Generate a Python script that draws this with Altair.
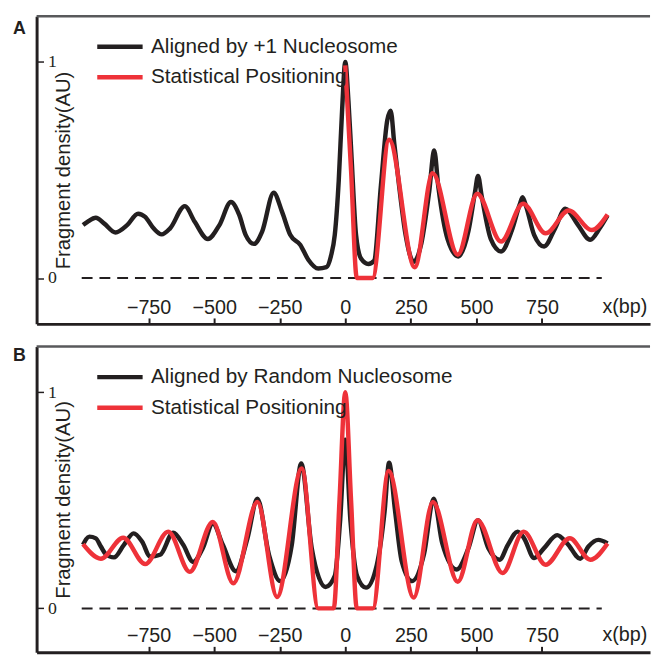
import altair as alt
import pandas as pd

# ---------------- data ----------------
X_TICKS = [-750, -500, -250, 0, 250, 500, 750]
Y_TICKS = [0, 1]

RED_NAME = "Statistical Positioning"
A_BLACK_NAME = "Aligned by +1 Nucleosome"
B_BLACK_NAME = "Aligned by Random Nucleosome"

# Panel A, black curve (aligned by +1 nucleosome)
a_black_bp = [-1000, -983, -951, -920, -876, -832, -790, -763, -731, -700, -668, -612, -574,
              -524, -480, -436, -404, -380, -348, -317, -273, -241, -210, -172, -141, -103,
              -72, -55, -40, -25, -12, 0, 12, 23, 41, 60, 88, 110, 136, 160, 173, 187, 205,
              230, 261, 290, 320, 339, 355, 390, 431, 470, 495, 506, 520, 555, 594, 635, 665,
              676, 690, 720, 758, 800, 839, 885, 934, 970, 1000]
a_black_val = [0.245, 0.26, 0.279, 0.253, 0.211, 0.245, 0.298, 0.283, 0.23, 0.202, 0.23, 0.333,
               0.26, 0.181, 0.245, 0.352, 0.291, 0.2, 0.158, 0.215, 0.395, 0.306, 0.2, 0.154,
               0.085, 0.044, 0.05, 0.1, 0.2, 0.45, 0.78, 1.0, 0.82, 0.58, 0.2, 0.09, 0.065, 0.08,
               0.43, 0.73, 0.775, 0.62, 0.43, 0.2, 0.075, 0.16, 0.4, 0.59, 0.42, 0.18, 0.1, 0.22,
               0.4, 0.473, 0.38, 0.18, 0.123, 0.22, 0.34, 0.374, 0.33, 0.2, 0.146, 0.23, 0.321,
               0.25, 0.177, 0.23, 0.29]

# Panel A, red curve (statistical positioning)
a_red_bp = [0, 22, 44, 104, 167, 265, 333, 429, 503, 594, 678, 764, 852, 940, 1000]
a_red_val = [0.985, 0.5, 0.0, 0.0, 0.64, 0.05, 0.485, 0.108, 0.39, 0.169, 0.344, 0.207,
             0.313, 0.222, 0.294]

# Panel B, black curve (aligned by random nucleosome)
b_black_bp = [-1000, -976, -951, -932, -913, -882, -844, -807, -775, -744, -706, -656, -618,
              -580, -543, -505, -467, -417, -373, -335, -291, -248, -204, -168, -128, -75,
              -40, -20, 0, 20, 45, 79, 120, 150, 167, 190, 215, 255, 300, 337, 370, 425, 470,
              506, 545, 588, 620, 657, 682, 720, 758, 808, 846, 896, 927, 965, 1000]
b_black_val = [0.294, 0.332, 0.324, 0.286, 0.251, 0.236, 0.294, 0.347, 0.309, 0.24, 0.248,
               0.35, 0.294, 0.215, 0.279, 0.393, 0.294, 0.172, 0.324, 0.507, 0.248, 0.126,
               0.294, 0.67, 0.279, 0.099, 0.15, 0.4, 0.78, 0.4, 0.15, 0.096, 0.2, 0.45, 0.674,
               0.45, 0.22, 0.126, 0.25, 0.507, 0.3, 0.18, 0.28, 0.408, 0.28, 0.225, 0.294,
               0.355, 0.324, 0.233, 0.279, 0.339, 0.301, 0.23, 0.286, 0.317, 0.301]

# Panel B, red curve (statistical positioning)
b_red_bp = [-1000, -932, -847, -763, -675, -593, -505, -427, -335, -260, -166, -103, -44, -22,
            0, 22, 44, 105, 165, 261, 334, 429, 504, 600, 680, 764, 856, 934, 1000]
b_red_val = [0.297, 0.23, 0.327, 0.205, 0.355, 0.169, 0.4, 0.116, 0.492, 0.053, 0.647, 0.0,
             0.0, 0.5, 1.0, 0.5, 0.0, 0.0, 0.636, 0.05, 0.492, 0.123, 0.408, 0.164, 0.355,
             0.202, 0.324, 0.225, 0.3]

ZERO_LINE = [-1005, 978]

# ---------------- styling ----------------
BLACK = "#231F20"
RED = "#EE3239"
GRAY = "#58595B"
SANS = "Liberation Sans"
SERIF = "Liberation Serif"
WIDTH = 622
X_DOMAIN = [-1177, 1162]


def panel(black_bp, black_val, red_bp, red_val, black_name, letter, height, y_domain,
          letter_y, legend_y):
    df = pd.DataFrame({
        "bp": list(black_bp) + list(red_bp),
        "density": list(black_val) + list(red_val),
        "series": [black_name] * len(black_bp) + [RED_NAME] * len(red_bp),
    })
    xs = alt.Scale(domain=X_DOMAIN, nice=False, zero=False)
    ys = alt.Scale(domain=y_domain, nice=False, zero=False)

    x_axis = alt.Axis(
        orient="top", offset=-height, values=X_TICKS, format="d", grid=False,
        domain=True, domainColor=BLACK, domainWidth=3,
        ticks=True, tickSize=6, tickWidth=2, tickColor=BLACK,
        labelFont=SANS, labelFontSize=20, labelPadding=1, labelColor=BLACK,
        labelFlush=False, labelOverlap=False,
        title="x(bp)", titleX=596, titleY=-11.5, titleBaseline="alphabetic",
        titleAlign="center", titleAnchor="start", titleFont=SANS, titleFontSize=20,
        titleFontWeight="normal", titleColor=BLACK)
    y_axis = alt.Axis(
        orient="right", offset=-WIDTH, values=Y_TICKS, format="d", grid=False,
        domain=True, domainColor=BLACK, domainWidth=3,
        ticks=True, tickSize=7, tickWidth=1.5, tickColor=BLACK,
        labelFont=SERIF, labelFontSize=18, labelPadding=4, labelColor=BLACK,
        labelBaseline="middle", labelFlush=False,
        title="Fragment density(AU)", titleAngle=270, titleX=33, titleY=height / 2,
        titleAlign="center", titleBaseline="alphabetic", titleFont=SANS,
        titleFontSize=20.5, titleFontWeight="normal", titleColor=BLACK)

    zero = alt.Chart(pd.DataFrame({"x0": [ZERO_LINE[0]], "x1": [ZERO_LINE[1]], "y0": [0]})).mark_rule(
        strokeDash=[11, 7], strokeWidth=2, color=BLACK
    ).encode(
        x=alt.X("x0:Q", scale=xs, axis=x_axis),
        x2="x1:Q",
        y=alt.Y("y0:Q", scale=ys, axis=y_axis),
    )

    lines = alt.Chart(df).mark_line(
        strokeWidth=4.5, interpolate="monotone", strokeJoin="round", strokeCap="butt"
    ).encode(
        x=alt.X("bp:Q", scale=xs, axis=x_axis),
        y=alt.Y("density:Q", scale=ys, axis=y_axis),
        color=alt.Color("series:N", scale=alt.Scale(domain=[black_name, RED_NAME],
                                                    range=[BLACK, RED]),
                        legend=alt.Legend(
                            title=None, orient="none", legendX=59, legendY=legend_y,
                            symbolType="stroke", symbolSize=2116, symbolStrokeWidth=4.5,
                            labelFont=SANS, labelFontSize=21, labelColor=BLACK,
                            labelOffset=6, labelLimit=0, rowPadding=0, clipHeight=31,
                            padding=0)),
    )

    top = alt.Chart(pd.DataFrame({"k": [0]})).mark_rule(color=GRAY, strokeWidth=2.5).encode(
        x=alt.value(0), x2=alt.value(WIDTH), y=alt.value(0)
    )

    lab = alt.Chart(pd.DataFrame({"t": [letter]})).mark_text(
        font=SANS, fontSize=18, fontWeight="bold", color=BLACK, align="center", baseline="middle"
    ).encode(x=alt.value(-17.5), y=alt.value(letter_y), text="t:N")

    return alt.layer(zero, lines, top, lab).properties(width=WIDTH, height=height)


chart_a = panel(a_black_bp, a_black_val, a_red_bp, a_red_val, A_BLACK_NAME, "A", 312,
                [-0.2123, 1.2123], 13, 15.5)
chart_b = panel(b_black_bp, b_black_val, b_red_bp, b_red_val, B_BLACK_NAME, "B", 310,
                [-0.203, 1.211], 9.5, 15.5)

chart = alt.vconcat(chart_a, chart_b, spacing=20).resolve_scale(
    color="independent"
).resolve_legend(color="independent").properties(
    padding={"left": 5, "top": 1.75, "right": 0, "bottom": 0}
).configure_view(stroke=None)

chart.save("out.html", embed_options={"renderer": "svg", "actions": False})
